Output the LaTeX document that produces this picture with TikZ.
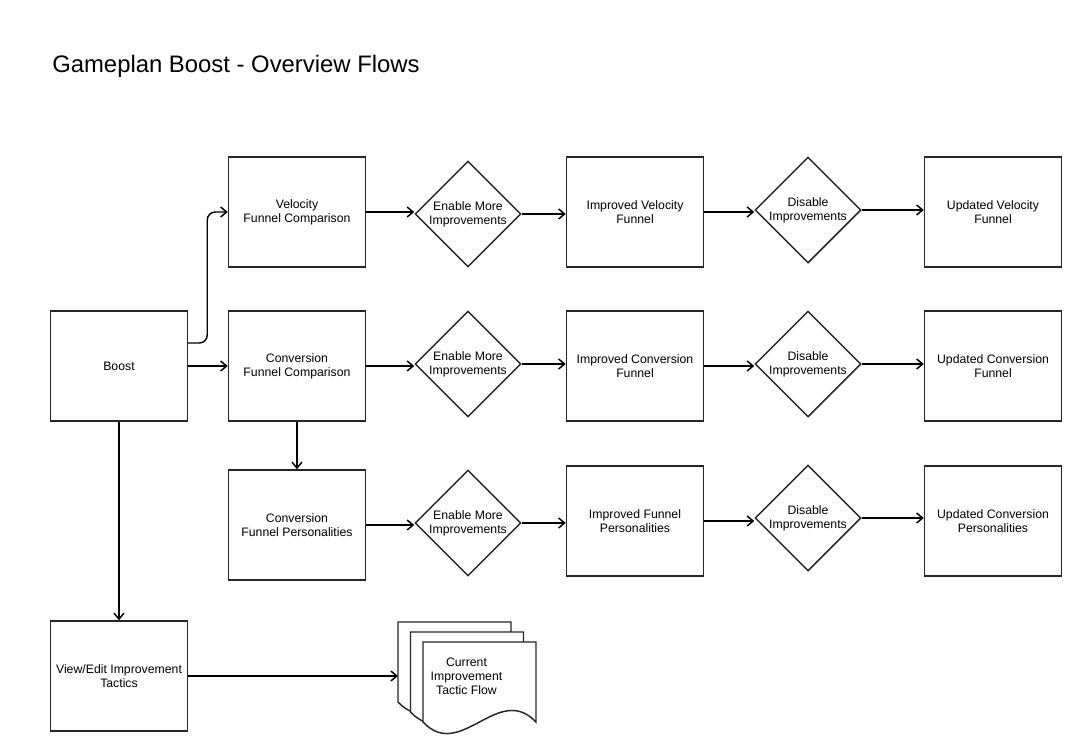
\documentclass[tikz,border=0pt]{standalone}
\usepackage{fontspec}
\setmainfont{Liberation Sans}
\usetikzlibrary{shapes.geometric,arrows.meta}
\begin{document}
\begin{tikzpicture}[x=0.75pt,y=-0.75pt,
  lbl/.style={font=\fontsize{9.2}{10.5}\selectfont,align=center,text=black},
  box/.style={lbl,draw=black!85,line width=1.1pt,fill=white,minimum width=102.75pt,minimum height=82.5pt,inner sep=0pt},
  dia/.style={lbl,diamond,draw=black!85,line width=1.1pt,fill=white,minimum width=79.5pt,minimum height=79.5pt,inner sep=0pt},
  page/.style={draw=black!85,line width=1.1pt,fill=white},
  arr/.style={line width=1.1pt,draw=black,-{Straight Barb[length=4.5pt,width=7.5pt]}}]
\useasboundingbox[fill=white] (0,0) rectangle (1082,751);

\node[anchor=base west,inner sep=0pt,font=\fontsize{17.9}{20}\selectfont] (title) at (52,72) {Gameplan Boost - Overview Flows};

% left column
\node[box] (boost) at (119,366) {Boost};
\node[box] (view) at (119,676) {View/Edit Improvement\\Tactics};

% row 1
\node[box] (vel) at (297,212) {Velocity\\Funnel Comparison};
\node[dia] (d11) at (468,214) {Enable More\\Improvements};
\node[box] (ivel) at (635,212) {Improved Velocity\\Funnel};
\node[dia] (d12) at (808,210) {Disable\\Improvements};
\node[box] (uvel) at (993,212) {Updated Velocity\\Funnel};

% row 2
\node[box] (conv) at (297,366) {Conversion\\Funnel Comparison};
\node[dia] (d21) at (468,364) {Enable More\\Improvements};
\node[box] (iconv) at (635,366) {Improved Conversion\\Funnel};
\node[dia] (d22) at (808,364) {Disable\\Improvements};
\node[box] (uconv) at (993,366) {Updated Conversion\\Funnel};

% row 3
\node[box] (pers) at (297,525) {Conversion\\Funnel Personalities};
\node[dia] (d31) at (468,523) {Enable More\\Improvements};
\node[box] (ipers) at (635,521) {Improved Funnel\\Personalities};
\node[dia] (d32) at (808,518) {Disable\\Improvements};
\node[box] (upers) at (993,521) {Updated Conversion\\Personalities};

% document stack
\foreach \px/\py in {398/622, 410.5/632, 423/642}{
  \draw[page] (\px,\py) -- ++(113,0) -- ++(0,80)
    .. controls ++(-37.7,-40) and ([shift={(37.7,40)}]\px,\py+80) .. (\px,\py+80) -- cycle;
}
\node[lbl] (doc) at (466.5,676) {Current\\Improvement\\Tactic Flow};
\coordinate (docin) at (398,676);

% connectors
\coordinate (bv) at ([yshift=17.25pt]boost.east);
\draw[arr,rounded corners=6pt] (bv) -- ++(19,0) |- (vel.west);
\draw[arr] (boost.east) -- (conv.west);
\draw[arr] (boost.south) -- (view.north);
\draw[arr] (conv.south) -- (pers.north);
\draw[arr] (view.east) -- (docin);

\draw[arr] (vel.east) -- (vel.east -| d11.west);
\draw[arr] (d11.east) -- (d11.east -| ivel.west);
\draw[arr] (ivel.east) -- (ivel.east -| d12.west);
\draw[arr] (d12.east) -- (d12.east -| uvel.west);

\draw[arr] (conv.east) -- (conv.east -| d21.west);
\draw[arr] (d21.east) -- (d21.east -| iconv.west);
\draw[arr] (iconv.east) -- (iconv.east -| d22.west);
\draw[arr] (d22.east) -- (d22.east -| uconv.west);

\draw[arr] (pers.east) -- (pers.east -| d31.west);
\draw[arr] (d31.east) -- (d31.east -| ipers.west);
\draw[arr] (ipers.east) -- (ipers.east -| d32.west);
\draw[arr] (d32.east) -- (d32.east -| upers.west);
\end{tikzpicture}
\end{document}
